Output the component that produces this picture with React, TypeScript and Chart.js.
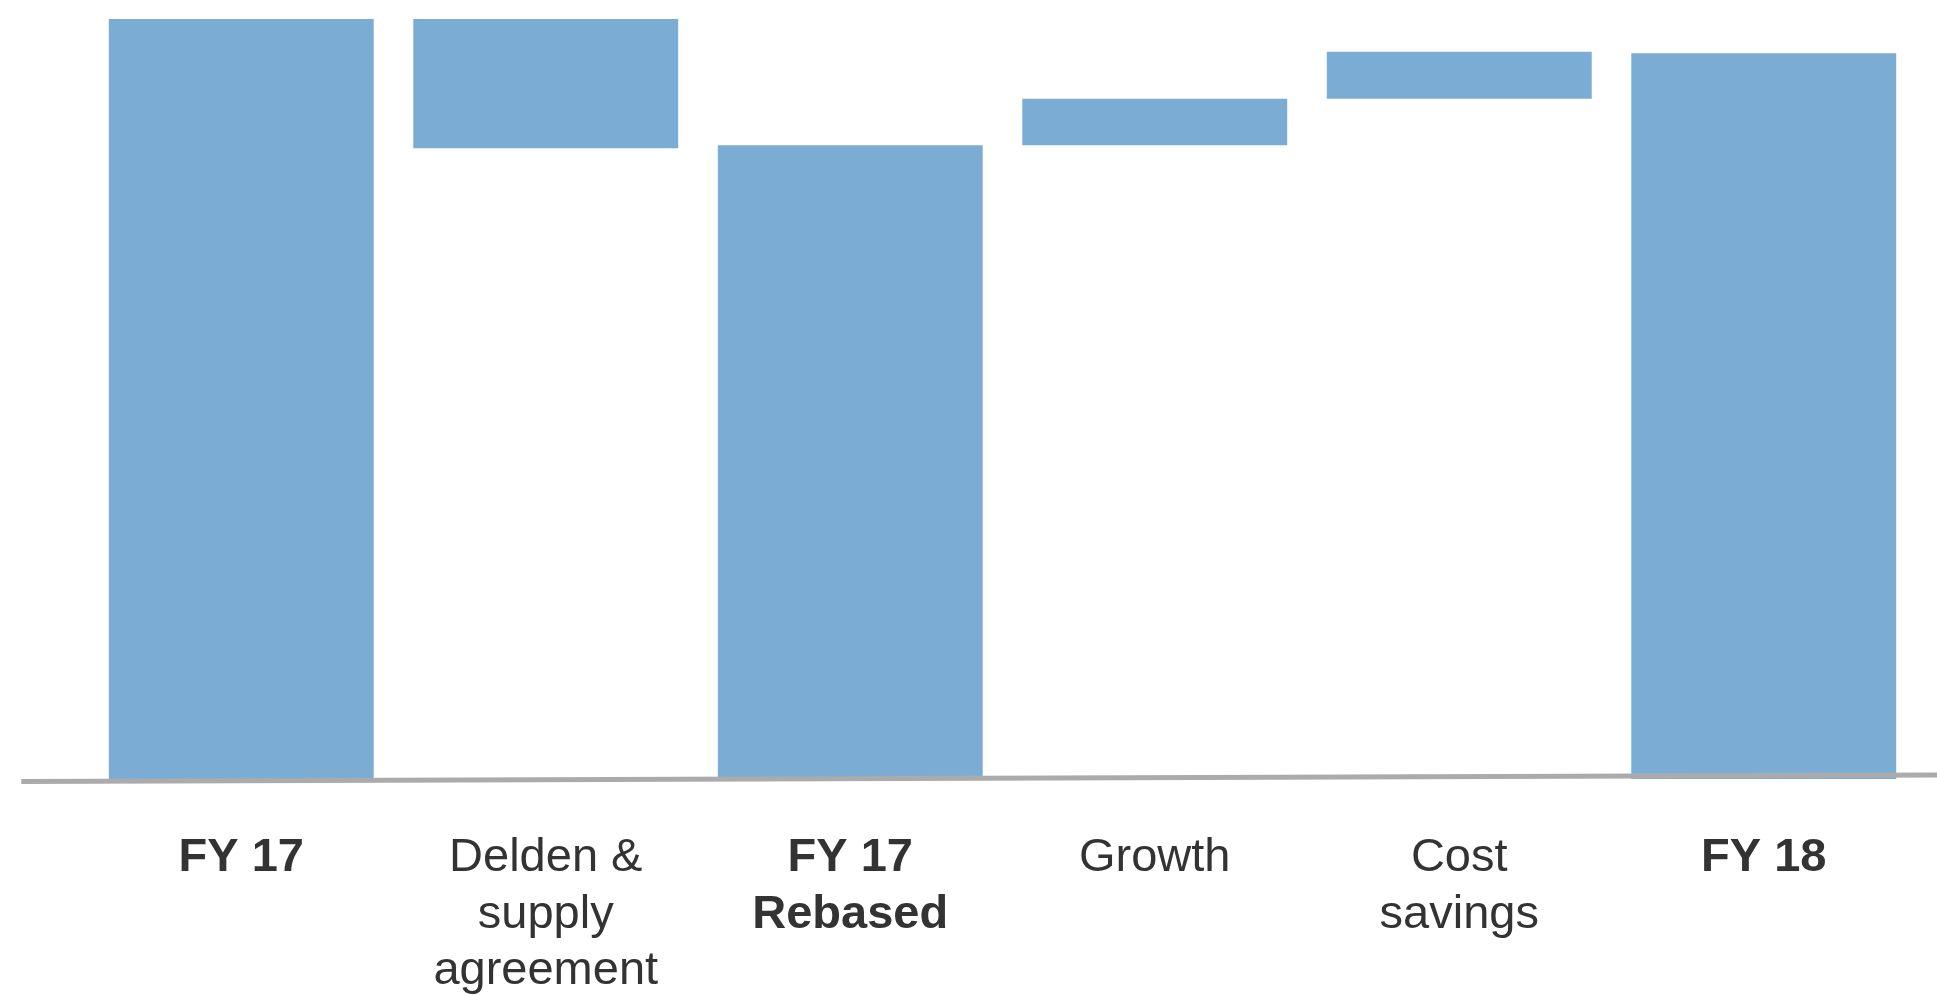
import React, { useEffect, useRef } from "react";
import { Chart, registerables } from "chart.js";

Chart.register(...registerables);

const categories: string[][] = [
  ["FY 17"],
  ["Delden &", "supply", "agreement"],
  ["FY 17", "Rebased"],
  ["Growth"],
  ["Cost", "savings"],
  ["FY 18"],
];
const boldLabels: boolean[] = [true, false, true, false, false, true];
const barStart: number[] = [0, 83.0, 0, 83.4, 89.5, 0];
const barEnd: number[] = [100, 100, 83.4, 89.5, 95.7, 95.5];

const BAR_COLOR = "#7BADD4";
const TEXT_COLOR = "#333333";
const FONT = "'Liberation Sans', Arial, sans-serif";

const baselinePlugin = {
  id: "baseline",
  afterDatasetsDraw(chart: any) {
    const { ctx, width } = chart;
    const y0 = chart.scales.y.getPixelForValue(0);
    ctx.save();
    ctx.strokeStyle = "#ABABAB";
    ctx.lineWidth = 5;
    ctx.beginPath();
    ctx.moveTo(width * 0.011, y0 + 2.5);
    ctx.lineTo(width, y0 - 4);
    ctx.stroke();
    ctx.restore();
  },
};

export default function App() {
  const ref = useRef<HTMLCanvasElement | null>(null);

  useEffect(() => {
    if (!ref.current) return;
    const data = barStart.map((s, i) => [s, barEnd[i]]);
    const chart = new Chart(ref.current, {
      type: "bar",
      data: {
        labels: categories,
        datasets: [
          {
            data: data as any,
            backgroundColor: BAR_COLOR,
            borderWidth: 0,
            categoryPercentage: 1,
            barPercentage: 0.87,
          },
        ],
      },
      options: {
        responsive: false,
        animation: false,
        layout: { padding: { left: 89, right: 21, top: 19, bottom: 0 } },
        plugins: {
          legend: { display: false },
          tooltip: { enabled: false },
          title: { display: false },
        },
        scales: {
          y: {
            display: false,
            min: 0,
            max: 100,
          },
          x: {
            display: true,
            grid: { display: false },
            border: { display: false },
            afterFit: (scale: any) => {
              scale.height = 216;
            },
            ticks: {
              color: TEXT_COLOR,
              padding: 43,
              maxRotation: 0,
              autoSkip: false,
              font: (c: any) => ({
                family: FONT,
                size: 47,
                lineHeight: 1.2,
                weight: boldLabels[c.index] ? "bold" : "normal",
              }),
            },
          },
        },
      },
      plugins: [baselinePlugin],
    });
    return () => chart.destroy();
  }, []);

  return (
    <div style={{ position: "absolute", left: 0, top: 0, width: 1937, height: 995, background: "#fff" }}>
      <canvas ref={ref} width={1937} height={995} style={{ display: "block" }} />
    </div>
  );
}
